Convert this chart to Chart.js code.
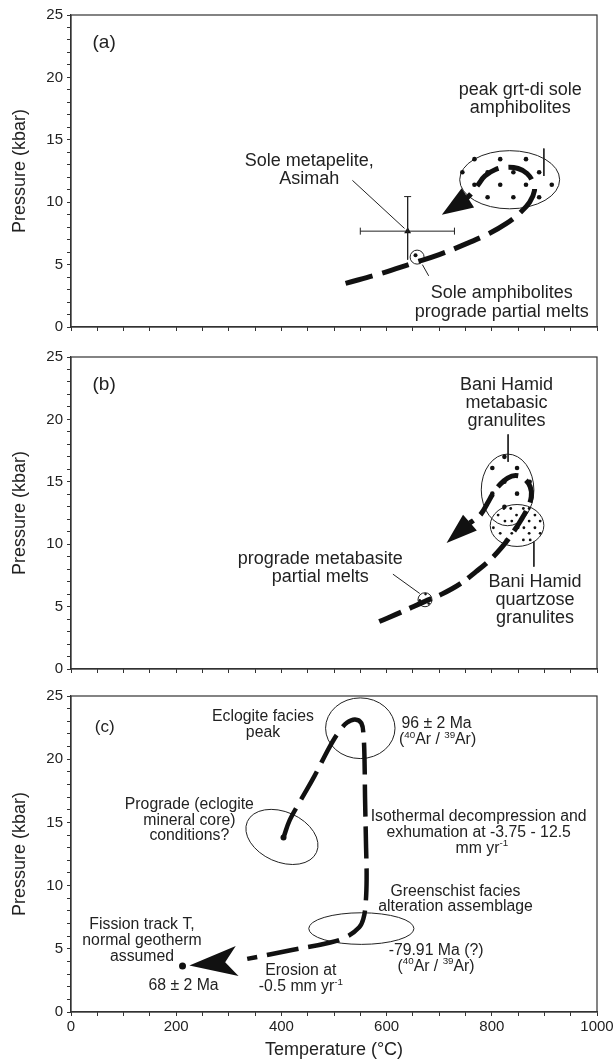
<!DOCTYPE html>
<html>
<head>
<meta charset="utf-8">
<script src="https://cdn.jsdelivr.net/npm/chart.js@4.4.0/dist/chart.umd.min.js"></script>
<style>
body{margin:0;background:#fff;}
#wrap{position:relative;width:616px;height:1063px;}
canvas{position:absolute;left:0;}
</style>
</head>
<body>
<div id="wrap">
<canvas id="PanelA" width="616" height="340" style="top:0px"></canvas>
<canvas id="PanelB" width="616" height="340" style="top:342px"></canvas>
<canvas id="PanelC" width="616" height="382" style="top:681px"></canvas>
</div>
<script>
var FONT = '"Liberation Sans", Arial, Helvetica, sans-serif';

// axes
var TempRange = [0, 1000];
var PressRange = [0, 25];
var TempLabelTicks = [0, 200, 400, 600, 800, 1000];
var PressLabelTicks = [0, 5, 10, 15, 20, 25];

// ---- panel (a) : [T degC, P kbar]
var PathA = [[522,3.5],[590,4.3],[649,5.1],[700,5.8],[753,6.7],[795,7.5],[828,8.3],[855,9.2],[872,10.0],[881,10.9],[878,11.6],[867,12.3],[850,12.7],[828,12.8],[806,12.6],[787,12.1],[774,11.4],[762,10.75],[752,10.3]];
var ArrowA = [[760,10.5],[705,9.0]];   // tail, tip
var DotsA = [[767,13.45],[816,13.45],[865,13.45],[744,12.4],[792,12.4],[841,12.4],[890,12.4],[767,11.4],[816,11.4],[865,11.4],[914,11.4],[792,10.4],[841,10.4],[890,10.4]];
var EllipseA = [[834,11.8,95,2.33,0]];  // T, P, dT, dP, tilt
var MeltA = [[658,5.6]];
var MeltDotA = [[655,5.75]];
var AsimahA = [[640,7.68]];
var AsimahErrT = [550,729];
var AsimahErrP = [10.45,5.4];
var LeadersA = [[[535,11.75],[634,7.9]], [[899,14.3],[899,12.1]], [[668,5.0],[680,4.1]]];
var TagA = ['(a)',63,22.75];
var LabelsA = [['Sole metapelite,',453,13.3],['Asimah',453,11.85],['peak grt-di sole',854,19.0],['amphibolites',854,17.55],['Sole amphibolites',819,2.75],['prograde partial melts',819,1.2]];

// ---- panel (b)
var PathB = [[586,3.8],[630,4.6],[672,5.4],[705,6.0],[739,6.8],[770,7.8],[798,8.8],[820,9.8],[838,10.8],[855,11.9],[868,12.9],[875,13.8],[873,14.6],[860,15.3],[845,15.5],[830,15.3],[816,14.8],[803,14.1],[792,13.3],[780,12.45],[768,12.0],[758,11.7]];
var ArrowB = [[782,12.6],[714,10.1]];
var DotsB = [[824,17.0],[801,16.1],[848,16.1],[824,15.0],[872,15.0],[801,14.05],[848,14.05],[824,13.0]];
var GrainsB = [[823,12.86],[836,12.86],[860,12.86],[871,12.86],[812,12.33],[847,12.33],[882,12.33],[825,11.85],[838,11.85],[871,11.85],[892,11.85],[803,11.32],[850,11.32],[861,11.32],[882,11.32],[816,10.87],[838,10.87],[871,10.87],[892,10.87],[827,10.34],[860,10.34],[873,10.34]];
var EllipseB = [[830,14.35,50,2.87,0],[848,11.5,51,1.68,0]];
var MeltB = [[673,5.55]];
var MeltDotsB = [[674,6.0],[663,5.5],[680,5.25]];
var LeadersB = [[[831,18.8],[831,16.6]], [[880,10.2],[880,8.2]], [[612,7.6],[663,6.05]]];
var TagB = ['(b)',63,22.75];
var LabelsB = [['Bani Hamid',828,22.75],['metabasic',828,21.3],['granulites',828,19.85],['Bani Hamid',882,6.95],['quartzose',882,5.5],['granulites',882,4.05],['prograde metabasite',474,8.8],['partial melts',474,7.35]];

// ---- panel (c)   ({..} = superscript)
var PathC = [[404,13.8],[416,15.2],[436,16.7],[462,18.6],[492,21.0],[510,22.2],[525,22.9],[540,23.15],[552,22.85],[556,21.9],[558,20.0],[559,17.0],[561,13.0],[562,10.5],[560,8.5],[556,7.4],[548,6.7],[524,5.95],[493,5.5],[420,4.9],[335,4.2]];
var ArrowC = [[320,4.05],[225,3.68]];
var StartC = [[404,13.8]];
var FissionC = [[212,3.63]];
var EllipseC = [[550,22.45,66,2.4,0],[401,13.85,72,1.98,24],[552,6.6,100,1.25,0]];
var TagC = ['(c)',64,22.5];
var LabelsC = [['Eclogite facies',365,23.4],['peak',365,22.1],['96 ± 2 Ma',695,22.85],['({40}Ar / {39}Ar)',697,21.55],
	['Prograde (eclogite',225,16.4],['mineral core)',225,15.15],['conditions?',225,13.95],
	['Isothermal decompression and',775,15.45],['exhumation at -3.75 - 12.5',775,14.2],['mm yr{-1}',781,12.95],
	['Greenschist facies',731,9.55],['alteration assemblage',731,8.3],['-79.91 Ma (?)',694,4.85],['({40}Ar / {39}Ar)',694,3.6],
	['Fission track T,',135,6.9],['normal geotherm',135,5.65],['assumed',135,4.4],['68 ± 2 Ma',214,2.1],
	['Erosion at',437,3.3],['-0.5 mm yr{-1}',437,2.0]];


function toXY(arr){ return arr.map(function(p){ return {x:p[0], y:p[1]}; }); }

function pathSet(arr, width, dash){
	return {data: toXY(arr), showLine: true, tension: 0.4, borderColor: '#111', borderWidth: width,
		borderDash: dash, borderCapStyle: 'butt', borderJoinStyle: 'round', pointRadius: 0, fill: false};
}
function dotSet(arr, r){
	return {data: toXY(arr), showLine: false, pointRadius: r, pointBackgroundColor: '#111', pointBorderWidth: 0};
}
function ringSet(arr, r){
	return {data: toXY(arr), showLine: false, pointRadius: r, pointBackgroundColor: 'rgba(0,0,0,0)', pointBorderColor: '#222', pointBorderWidth: 1};
}
function leaderSet(seg){
	return {data: toXY(seg), showLine: true, borderColor: '#222', borderWidth: 1, pointRadius: 0, tension: 0};
}

// centred text, with {..} parts raised as superscripts
function drawRich(ctx, text, x, y, size){
	var parts = text.split(/(\{[^}]*\})/).filter(function(p){ return p.length; });
	var widths = [], total = 0;
	parts.forEach(function(p){
		var sup = p.charAt(0) == '{';
		ctx.font = (sup ? size*0.62 : size) + 'px ' + FONT;
		var w = ctx.measureText(sup ? p.slice(1,-1) : p).width;
		widths.push(w);
		total += w;
	});
	var cx = x - total/2;
	ctx.textAlign = 'left';
	parts.forEach(function(p, i){
		var sup = p.charAt(0) == '{';
		ctx.font = (sup ? size*0.62 : size) + 'px ' + FONT;
		ctx.fillText(sup ? p.slice(1,-1) : p, cx, sup ? y - size*0.3 : y);
		cx += widths[i];
	});
}

function extras(cfg){
	return {
		id: 'extras',
		beforeDatasetsDraw: function(chart){
			var ctx = chart.ctx, xs = chart.scales.x, ys = chart.scales.y;
			ctx.save();
			ctx.strokeStyle = '#222';
			ctx.lineWidth = 1;
			cfg.ellipses.forEach(function(e){
				var cx = xs.getPixelForValue(e[0]), cy = ys.getPixelForValue(e[1]);
				var rx = Math.abs(xs.getPixelForValue(e[0]+e[2]) - cx);
				var ry = Math.abs(ys.getPixelForValue(e[1]+e[3]) - cy);
				ctx.beginPath();
				ctx.ellipse(cx, cy, rx, ry, e[4]*Math.PI/180, 0, 2*Math.PI);
				ctx.stroke();
			});
			ctx.restore();
		},
		afterDatasetsDraw: function(chart){
			var ctx = chart.ctx, xs = chart.scales.x, ys = chart.scales.y;
			// arrow head
			var a = cfg.arrow;
			var tx = xs.getPixelForValue(a[1][0]), ty = ys.getPixelForValue(a[1][1]);
			var sx = xs.getPixelForValue(a[0][0]), sy = ys.getPixelForValue(a[0][1]);
			var ang = Math.atan2(ty - sy, tx - sx);
			var ux = Math.cos(ang), uy = Math.sin(ang);
			var bx = tx - ux*cfg.headLen, by = ty - uy*cfg.headLen;
			ctx.save();
			ctx.fillStyle = '#111';
			ctx.beginPath();
			ctx.moveTo(tx, ty);
			ctx.lineTo(bx - uy*cfg.headHalf, by + ux*cfg.headHalf);
			ctx.lineTo(tx - ux*(cfg.headLen - cfg.notch), ty - uy*(cfg.headLen - cfg.notch));
			ctx.lineTo(bx + uy*cfg.headHalf, by - ux*cfg.headHalf);
			ctx.closePath();
			ctx.fill();

			// texts
			ctx.fillStyle = '#222';
			ctx.textBaseline = 'middle';
			drawRich(ctx, cfg.tag[0], xs.getPixelForValue(cfg.tag[1]), ys.getPixelForValue(cfg.tag[2]), cfg.tagSize);
			cfg.labels.forEach(function(l){
				drawRich(ctx, l[0], xs.getPixelForValue(l[1]), ys.getPixelForValue(l[2]), cfg.textSize);
			});
			ctx.restore();
		},
		afterDraw: function(chart){
			var ctx = chart.ctx, ar = chart.chartArea;
			ctx.save();
			ctx.strokeStyle = '#333';
			ctx.lineWidth = 1.2;
			ctx.strokeRect(ar.left, ar.top, ar.right - ar.left, ar.bottom - ar.top);
			ctx.restore();
		}
	};
}

function panelOptions(showX, xHeight){
	return {
		responsive: false,
		animation: false,
		events: [],
		layout: {padding: {top: 15, right: 19, bottom: 0, left: 0}},
		plugins: {legend: {display: false}, tooltip: {enabled: false}},
		scales: {
			x: {
				type: 'linear', min: TempRange[0], max: TempRange[1],
				afterFit: function(s){ s.height = xHeight; },
				border: {display: true, color: '#333', width: 1.2},
				grid: {drawOnChartArea: false, drawTicks: true, tickLength: 4, color: '#333'},
				ticks: {stepSize: 50, autoSkip: false, maxRotation: 0, padding: 2, color: '#222',
					font: {size: 15, family: FONT},
					callback: function(v){ return (showX && TempLabelTicks.indexOf(v) >= 0) ? v : ''; }},
				title: {display: showX, text: 'Temperature (°C)', color: '#222', font: {size: 18, family: FONT}, padding: {top: 0, bottom: 2}}
			},
			y: {
				type: 'linear', min: PressRange[0], max: PressRange[1],
				afterFit: function(s){ s.width = 71; },
				border: {display: true, color: '#333', width: 1.2},
				grid: {drawOnChartArea: false, drawTicks: true, tickLength: 4, color: '#333'},
				ticks: {stepSize: 1, autoSkip: false, padding: 4, color: '#222',
					font: {size: 15, family: FONT},
					callback: function(v){ return PressLabelTicks.indexOf(v) >= 0 ? v : ''; }},
				title: {display: true, text: 'Pressure (kbar)', color: '#222', font: {size: 18, family: FONT}, padding: {top: 9, bottom: 0}}
			}
		}
	};
}


// (a)
var setsA = [
	pathSet(PathA, 5, [28,10]),
	dotSet(DotsA, 2.3),
	ringSet(MeltA, 7),
	dotSet(MeltDotA, 2),
	leaderSet([[AsimahErrT[0],AsimahA[0][1]],[AsimahErrT[1],AsimahA[0][1]]]),
	leaderSet([[AsimahA[0][0],AsimahErrP[0]],[AsimahA[0][0],AsimahErrP[1]]]),
	{data: toXY([[AsimahErrT[0],AsimahA[0][1]],[AsimahErrT[1],AsimahA[0][1]],[AsimahA[0][0],AsimahErrP[0]]]),
		showLine: false, pointStyle: 'line', pointRadius: 3.5, pointBorderColor: '#222', pointBorderWidth: 1, pointRotation: [90,90,0]},
	{data: toXY(AsimahA), showLine: false, pointStyle: 'triangle', pointRadius: 4, pointBackgroundColor: '#111', pointBorderWidth: 0}
];
LeadersA.forEach(function(s){ setsA.push(leaderSet(s)); });

new Chart(document.getElementById('PanelA'), {
	type: 'scatter',
	data: {datasets: setsA},
	options: panelOptions(false, 10),
	plugins: [extras({ellipses: EllipseA, arrow: ArrowA, headLen: 31, headHalf: 11.5, notch: 0, tag: TagA, tagSize: 19, labels: LabelsA, textSize: 18})]
});

// (b)
var setsB = [
	pathSet(PathB, 5, [24,9]),
	dotSet(DotsB, 2.3),
	dotSet(GrainsB, 1.4),
	ringSet(MeltB, 7),
	dotSet(MeltDotsB, 1.3)
];
LeadersB.forEach(function(s){ setsB.push(leaderSet(s)); });

new Chart(document.getElementById('PanelB'), {
	type: 'scatter',
	data: {datasets: setsB},
	options: panelOptions(false, 10),
	plugins: [extras({ellipses: EllipseB, arrow: ArrowB, headLen: 31, headHalf: 10.5, notch: 0, tag: TagB, tagSize: 19, labels: LabelsB, textSize: 18})]
});

// (c)
var setsC = [
	pathSet(PathC, 4.5, [32,10]),
	dotSet(StartC, 3),
	dotSet(FissionC, 3.5)
];

new Chart(document.getElementById('PanelC'), {
	type: 'scatter',
	data: {datasets: setsC},
	options: panelOptions(true, 51),
	plugins: [extras({ellipses: EllipseC, arrow: ArrowC, headLen: 48, headHalf: 15, notch: 12, tag: TagC, tagSize: 17, labels: LabelsC, textSize: 15.8})]
});
</script>
</body>
</html>
